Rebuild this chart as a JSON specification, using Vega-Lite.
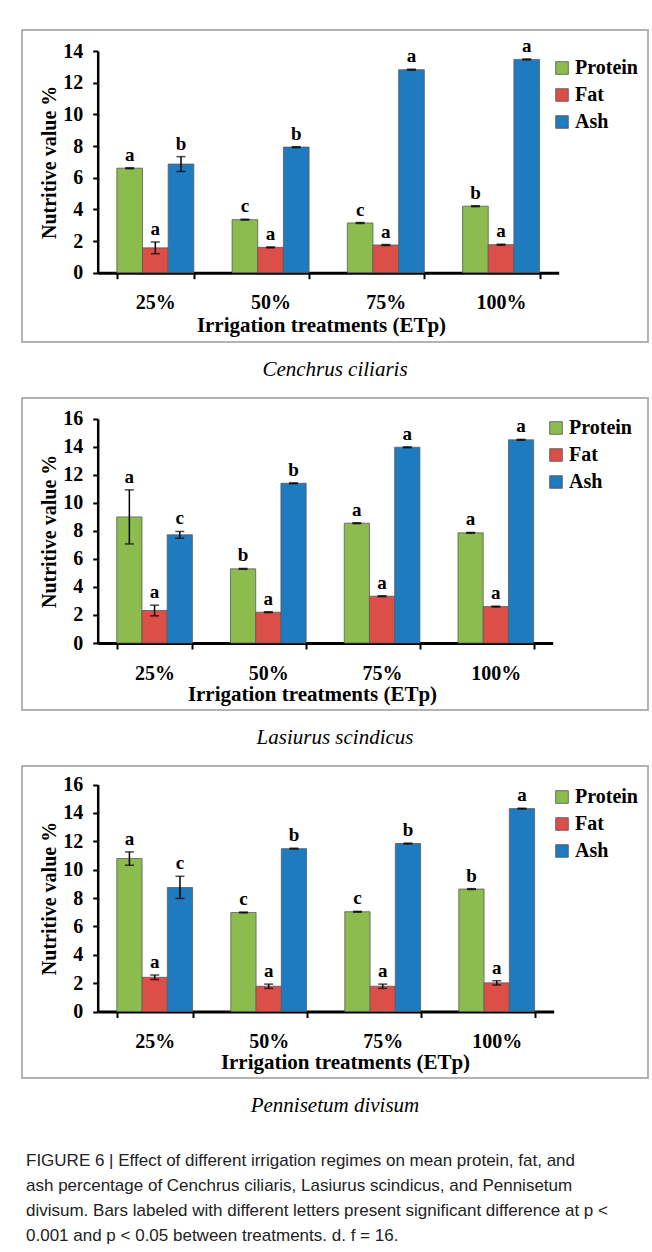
{
  "$schema": "https://vega.github.io/schema/vega-lite/v6.json",
  "padding": {"left": 21, "top": 29, "right": 4, "bottom": 0},
  "spacing": 16,
  "title": {
    "text": [
      "FIGURE 6 | Effect of different irrigation regimes on mean protein, fat, and",
      "ash percentage of Cenchrus ciliaris, Lasiurus scindicus, and Pennisetum",
      "divisum. Bars labeled with different letters present significant difference at p <",
      "0.001 and p < 0.05 between treatments. d. f = 16."
    ],
    "orient": "bottom",
    "anchor": "start",
    "frame": "group",
    "font": "Liberation Sans Narrow, Liberation Sans, sans-serif",
    "fontSize": 17,
    "fontStyle": "normal",
    "fontWeight": "normal",
    "color": "#222222",
    "lineHeight": 25,
    "offset": 36,
    "dx": 4
  },
  "datasets": {
    "p1": [
      {"treatment": "25%", "nutrient": "Protein", "value": 6.6, "lo": 6.57, "hi": 6.63, "letter": "a"},
      {"treatment": "25%", "nutrient": "Fat", "value": 1.57, "lo": 1.2, "hi": 1.94, "letter": "a"},
      {"treatment": "25%", "nutrient": "Ash", "value": 6.86, "lo": 6.39, "hi": 7.33, "letter": "b"},
      {"treatment": "50%", "nutrient": "Protein", "value": 3.35, "lo": 3.32, "hi": 3.38, "letter": "c"},
      {"treatment": "50%", "nutrient": "Fat", "value": 1.6, "lo": 1.57, "hi": 1.63, "letter": "a"},
      {"treatment": "50%", "nutrient": "Ash", "value": 7.93, "lo": 7.9, "hi": 7.96, "letter": "b"},
      {"treatment": "75%", "nutrient": "Protein", "value": 3.14, "lo": 3.11, "hi": 3.17, "letter": "c"},
      {"treatment": "75%", "nutrient": "Fat", "value": 1.75, "lo": 1.72, "hi": 1.78, "letter": "a"},
      {"treatment": "75%", "nutrient": "Ash", "value": 12.82, "lo": 12.79, "hi": 12.85, "letter": "a"},
      {"treatment": "100%", "nutrient": "Protein", "value": 4.2, "lo": 4.17, "hi": 4.23, "letter": "b"},
      {"treatment": "100%", "nutrient": "Fat", "value": 1.77, "lo": 1.74, "hi": 1.8, "letter": "a"},
      {"treatment": "100%", "nutrient": "Ash", "value": 13.47, "lo": 13.44, "hi": 13.5, "letter": "a"}
    ],
    "p2": [
      {"treatment": "25%", "nutrient": "Protein", "value": 9.0, "lo": 7.07, "hi": 10.93, "letter": "a"},
      {"treatment": "25%", "nutrient": "Fat", "value": 2.32, "lo": 1.94, "hi": 2.7, "letter": "a"},
      {"treatment": "25%", "nutrient": "Ash", "value": 7.72, "lo": 7.48, "hi": 7.96, "letter": "c"},
      {"treatment": "50%", "nutrient": "Protein", "value": 5.29, "lo": 5.26, "hi": 5.32, "letter": "b"},
      {"treatment": "50%", "nutrient": "Fat", "value": 2.2, "lo": 2.17, "hi": 2.23, "letter": "a"},
      {"treatment": "50%", "nutrient": "Ash", "value": 11.4, "lo": 11.37, "hi": 11.43, "letter": "b"},
      {"treatment": "75%", "nutrient": "Protein", "value": 8.55, "lo": 8.52, "hi": 8.58, "letter": "a"},
      {"treatment": "75%", "nutrient": "Fat", "value": 3.34, "lo": 3.31, "hi": 3.37, "letter": "a"},
      {"treatment": "75%", "nutrient": "Ash", "value": 13.97, "lo": 13.94, "hi": 14.0, "letter": "a"},
      {"treatment": "100%", "nutrient": "Protein", "value": 7.86, "lo": 7.83, "hi": 7.89, "letter": "a"},
      {"treatment": "100%", "nutrient": "Fat", "value": 2.6, "lo": 2.57, "hi": 2.63, "letter": "a"},
      {"treatment": "100%", "nutrient": "Ash", "value": 14.5, "lo": 14.47, "hi": 14.53, "letter": "a"}
    ],
    "p3": [
      {"treatment": "25%", "nutrient": "Protein", "value": 10.78, "lo": 10.31, "hi": 11.25, "letter": "a"},
      {"treatment": "25%", "nutrient": "Fat", "value": 2.41, "lo": 2.25, "hi": 2.57, "letter": "a"},
      {"treatment": "25%", "nutrient": "Ash", "value": 8.74, "lo": 7.97, "hi": 9.53, "letter": "c"},
      {"treatment": "50%", "nutrient": "Protein", "value": 6.98, "lo": 6.95, "hi": 7.01, "letter": "c"},
      {"treatment": "50%", "nutrient": "Fat", "value": 1.78, "lo": 1.63, "hi": 1.93, "letter": "a"},
      {"treatment": "50%", "nutrient": "Ash", "value": 11.48, "lo": 11.45, "hi": 11.51, "letter": "b"},
      {"treatment": "75%", "nutrient": "Protein", "value": 7.03, "lo": 7.0, "hi": 7.06, "letter": "c"},
      {"treatment": "75%", "nutrient": "Fat", "value": 1.78, "lo": 1.63, "hi": 1.93, "letter": "a"},
      {"treatment": "75%", "nutrient": "Ash", "value": 11.84, "lo": 11.81, "hi": 11.87, "letter": "b"},
      {"treatment": "100%", "nutrient": "Protein", "value": 8.63, "lo": 8.6, "hi": 8.66, "letter": "b"},
      {"treatment": "100%", "nutrient": "Fat", "value": 2.02, "lo": 1.87, "hi": 2.17, "letter": "a"},
      {"treatment": "100%", "nutrient": "Ash", "value": 14.3, "lo": 14.27, "hi": 14.33, "letter": "a"}
    ]
  },
  "vconcat": [
    {
      "width": 626, "height": 312,
      "data": {"name": "p1"},
      "title": {"text": "Cenchrus ciliaris"},
      "encoding": {
        "x": {"field": "treatment", "type": "nominal", "sort": ["25%", "50%", "75%", "100%"],
          "scale": {"range": [75.7, 536.7], "paddingInner": 0.332, "paddingOuter": 0.166},
          "axis": {"title": "Irrigation treatments (ETp)", "offset": -69.3, "tickBand": "extent", "titleX": 299}},
        "xOffset": {"field": "nutrient", "type": "nominal", "sort": ["Protein", "Fat", "Ash"], "scale": {"paddingInner": 0, "paddingOuter": 0}}
      },
      "layer": [
        {"mark": {"type": "bar", "stroke": "#5a5a5a", "strokeWidth": 0.8},
          "encoding": {
            "y": {"field": "value", "type": "quantitative", "scale": {"domain": [0, 14], "range": [242.7, 21], "nice": false},
              "axis": {"title": "Nutritive value %", "values": [0, 2, 4, 6, 8, 10, 12, 14], "offset": -75.7, "labelOverlap": false}},
            "color": {"field": "nutrient", "type": "nominal", "scale": {"domain": ["Protein", "Fat", "Ash"], "range": ["#8cbb4e", "#dc4e48", "#1f7bc0"]},
              "legend": {"orient": "none", "legendX": 530, "legendY": 28, "title": null, "labelFont": "Liberation Serif", "labelFontWeight": "bold", "labelFontSize": 20}}
          }},
        {"mark": {"type": "errorbar", "color": "black", "thickness": 1.5, "ticks": {"size": 9, "thickness": 1.5, "color": "black"}},
          "encoding": {"y": {"field": "lo", "type": "quantitative", "axis": {"title": "Nutritive value %", "values": [0, 2, 4, 6, 8, 10, 12, 14], "offset": -75.7, "labelOverlap": false}}, "y2": {"field": "hi"}}},
        {"mark": {"type": "text", "font": "Liberation Serif", "fontWeight": "bold", "fontSize": 19, "baseline": "bottom", "dy": -3, "color": "black"},
          "encoding": {"y": {"field": "hi", "type": "quantitative", "axis": {"title": "Nutritive value %", "values": [0, 2, 4, 6, 8, 10, 12, 14], "offset": -75.7, "labelOverlap": false}}, "text": {"field": "letter"}}}
      ]
    },
    {
      "width": 626, "height": 312,
      "data": {"name": "p2"},
      "title": {"text": "Lasiurus scindicus"},
      "encoding": {
        "x": {"field": "treatment", "type": "nominal", "sort": ["25%", "50%", "75%", "100%"],
          "scale": {"range": [75.7, 530.7], "paddingInner": 0.335, "paddingOuter": 0.1675},
          "axis": {"title": "Irrigation treatments (ETp)", "offset": -67, "tickBand": "extent", "titleX": 290, "titlePadding": 0}},
        "xOffset": {"field": "nutrient", "type": "nominal", "sort": ["Protein", "Fat", "Ash"], "scale": {"paddingInner": 0, "paddingOuter": 0}}
      },
      "layer": [
        {"mark": {"type": "bar", "stroke": "#5a5a5a", "strokeWidth": 0.8},
          "encoding": {
            "y": {"field": "value", "type": "quantitative", "scale": {"domain": [0, 16], "range": [245, 20.8], "nice": false},
              "axis": {"title": "Nutritive value %", "values": [0, 2, 4, 6, 8, 10, 12, 14, 16], "offset": -75.7, "labelOverlap": false}},
            "color": {"field": "nutrient", "type": "nominal", "scale": {"domain": ["Protein", "Fat", "Ash"], "range": ["#8cbb4e", "#dc4e48", "#1f7bc0"]},
              "legend": {"orient": "none", "legendX": 524, "legendY": 20, "title": null, "labelFont": "Liberation Serif", "labelFontWeight": "bold", "labelFontSize": 20}}
          }},
        {"mark": {"type": "errorbar", "color": "black", "thickness": 1.5, "ticks": {"size": 9, "thickness": 1.5, "color": "black"}},
          "encoding": {"y": {"field": "lo", "type": "quantitative", "axis": {"title": "Nutritive value %", "values": [0, 2, 4, 6, 8, 10, 12, 14, 16], "offset": -75.7, "labelOverlap": false}}, "y2": {"field": "hi"}}},
        {"mark": {"type": "text", "font": "Liberation Serif", "fontWeight": "bold", "fontSize": 19, "baseline": "bottom", "dy": -3, "color": "black"},
          "encoding": {"y": {"field": "hi", "type": "quantitative", "axis": {"title": "Nutritive value %", "values": [0, 2, 4, 6, 8, 10, 12, 14, 16], "offset": -75.7, "labelOverlap": false}}, "text": {"field": "letter"}}}
      ]
    },
    {
      "width": 626, "height": 312,
      "data": {"name": "p3"},
      "title": {"text": "Pennisetum divisum"},
      "encoding": {
        "x": {"field": "treatment", "type": "nominal", "sort": ["25%", "50%", "75%", "100%"],
          "scale": {"range": [75.7, 531.7], "paddingInner": 0.335, "paddingOuter": 0.1675},
          "axis": {"title": "Irrigation treatments (ETp)", "offset": -66.5, "tickBand": "extent", "titleX": 323, "titlePadding": 0}},
        "xOffset": {"field": "nutrient", "type": "nominal", "sort": ["Protein", "Fat", "Ash"], "scale": {"paddingInner": 0, "paddingOuter": 0}}
      },
      "layer": [
        {"mark": {"type": "bar", "stroke": "#5a5a5a", "strokeWidth": 0.8},
          "encoding": {
            "y": {"field": "value", "type": "quantitative", "scale": {"domain": [0, 16], "range": [245.5, 18.5], "nice": false},
              "axis": {"title": "Nutritive value %", "values": [0, 2, 4, 6, 8, 10, 12, 14, 16], "offset": -75.7, "labelOverlap": false}},
            "color": {"field": "nutrient", "type": "nominal", "scale": {"domain": ["Protein", "Fat", "Ash"], "range": ["#8cbb4e", "#dc4e48", "#1f7bc0"]},
              "legend": {"orient": "none", "legendX": 530, "legendY": 21, "title": null, "labelFont": "Liberation Serif", "labelFontWeight": "bold", "labelFontSize": 20}}
          }},
        {"mark": {"type": "errorbar", "color": "black", "thickness": 1.5, "ticks": {"size": 9, "thickness": 1.5, "color": "black"}},
          "encoding": {"y": {"field": "lo", "type": "quantitative", "axis": {"title": "Nutritive value %", "values": [0, 2, 4, 6, 8, 10, 12, 14, 16], "offset": -75.7, "labelOverlap": false}}, "y2": {"field": "hi"}}},
        {"mark": {"type": "text", "font": "Liberation Serif", "fontWeight": "bold", "fontSize": 19, "baseline": "bottom", "dy": -3, "color": "black"},
          "encoding": {"y": {"field": "hi", "type": "quantitative", "axis": {"title": "Nutritive value %", "values": [0, 2, 4, 6, 8, 10, 12, 14, 16], "offset": -75.7, "labelOverlap": false}}, "text": {"field": "letter"}}}
      ]
    }
  ],
  "resolve": {"scale": {"color": "independent", "xOffset": "independent"}, "legend": {"color": "independent"}},
  "config": {
    "view": {"stroke": "#9a9a9a", "strokeWidth": 1.5},
    "font": "Liberation Serif",
    "title": {"orient": "bottom", "offset": 17, "font": "Liberation Serif", "fontStyle": "italic", "fontWeight": "normal", "fontSize": 21, "color": "black", "anchor": "middle"},
    "axis": {"domainColor": "black", "tickColor": "black", "labelColor": "black", "titleColor": "black", "labelFont": "Liberation Serif", "titleFont": "Liberation Serif", "labelFontWeight": "bold", "titleFontWeight": "bold", "grid": false, "tickWidth": 2},
    "axisX": {"domainWidth": 3, "tickSize": 6, "labelFontSize": 20, "labelPadding": 14, "labelAngle": 0, "titleFontSize": 21, "titlePadding": 2},
    "axisY": {"domainWidth": 2.5, "tickSize": 5, "labelFontSize": 20, "labelPadding": 10, "titleFontSize": 20, "titlePadding": 3, "labelOverlap": false},
    "legend": {"symbolType": "square", "symbolSize": 160, "symbolStrokeColor": "#555555", "symbolStrokeWidth": 0.8, "labelFont": "Liberation Serif", "labelFontWeight": "bold", "labelFontSize": 20, "labelColor": "black", "rowPadding": 7, "labelOffset": 3, "padding": 0}
  }
}
